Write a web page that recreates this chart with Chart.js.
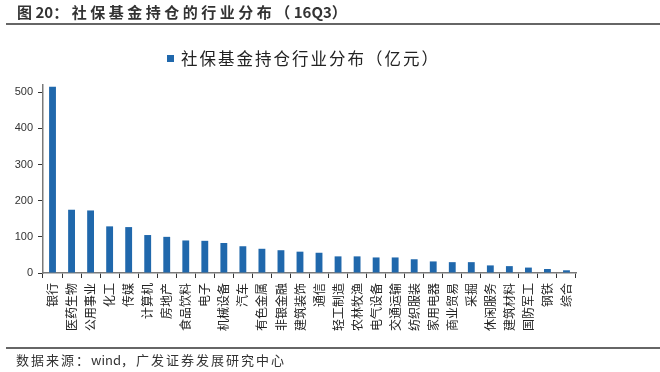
<!DOCTYPE html>
<html>
<head>
<meta charset="utf-8">
<script src="https://cdn.jsdelivr.net/npm/chart.js@4.4.1/dist/chart.umd.min.js"></script>
<style>
  html, body { margin: 0; padding: 0; background: #fff; }
  #wrap { position: relative; width: 660px; height: 372px; overflow: hidden; font-family: "Noto Sans CJK SC", "Noto Sans", sans-serif; }
  #chart { position: absolute; left: 0; top: 0; }
  .title { position: absolute; left: 17px; top: 2px; font-size: 15px; font-weight: bold; color: #333; letter-spacing: 3.5px; line-height: 20px; white-space: nowrap; }
  .title b, .source b { letter-spacing: 0; font-weight: inherit; }
  .rule { position: absolute; left: 6px; right: 0; height: 1.5px; background: #666; }
  .legend { position: absolute; left: 167px; top: 47px; font-size: 16.5px; color: #222; letter-spacing: 2px; line-height: 22px; white-space: nowrap; }
  .legend i { display: inline-block; width: 7px; height: 7px; background: #2068ac; margin-right: 7px; vertical-align: 3px; }
  .source { position: absolute; left: 16px; top: 351px; font-size: 13px; color: #333; letter-spacing: 2px; line-height: 18px; white-space: nowrap; }
</style>
</head>
<body>
<div id="wrap">
  <canvas id="chart" width="660" height="372"></canvas>
  <div class="title">图<b>20</b>：社保基金持仓的行业分布（<b>16Q3</b>）</div>
  <div class="rule" style="top:23px"></div>
  <div class="legend"><i></i>社保基金持仓行业分布（亿元）</div>
  <div class="rule" style="top:347px"></div>
  <div class="source">数据来源：<b>wind</b>，广发证券发展研究中心</div>
</div>
<script>
// ========== Data ==========
const industries = ['银行', '医药生物', '公用事业', '化工', '传媒', '计算机', '房地产', '食品饮料', '电子', '机械设备',
  '汽车', '有色金属', '非银金融', '建筑装饰', '通信', '轻工制造', '农林牧渔', '电气设备', '交通运输', '纺织服装',
  '家用电器', '商业贸易', '采掘', '休闲服务', '建筑材料', '国防军工', '钢铁', '综合'];
const holdings = [515, 175, 173, 129, 127, 105, 100, 90, 89, 83,
  74, 67, 63, 59, 56, 46, 46, 43, 43, 38,
  32, 30, 30, 21, 19, 15, 11, 7.5];
const yTicks = [0, 100, 200, 300, 400, 500];

const BAR_COLOR = '#2068ac';
const AXIS_COLOR = '#7a7a7a';
const FONT = '"Noto Sans CJK SC", "Noto Sans", sans-serif';

new Chart(document.getElementById('chart'), {
  type: 'bar',
  data: {
    labels: industries,
    datasets: [{
      label: '社保基金持仓行业分布（亿元）',
      data: holdings,
      backgroundColor: BAR_COLOR,
      categoryPercentage: 1,
      barPercentage: 0.36
    }]
  },
  options: {
    responsive: false,
    animation: false,
    layout: { padding: { left: 0, right: 84, top: 85, bottom: 37 } },
    plugins: {
      legend: { display: false },
      tooltip: { enabled: false }
    },
    scales: {
      x: {
        offset: true,
        afterFit: s => { s.height = 62; },
        border: { color: AXIS_COLOR, width: 1.5 },
        grid: { offset: true, drawOnChartArea: false, tickLength: 5, color: '#333', lineWidth: 1 },
        ticks: {
          minRotation: 90, maxRotation: 90, autoSkip: false, padding: 5,
          color: '#222', font: { family: FONT, size: 12 }
        }
      },
      y: {
        min: 0, max: 520,
        afterFit: s => { s.width = 43; },
        afterBuildTicks: s => { s.ticks = yTicks.map(v => ({ value: v })); },
        border: { color: AXIS_COLOR, width: 1.5 },
        grid: { drawOnChartArea: false, tickLength: 5, color: '#333', lineWidth: 1 },
        ticks: {
          padding: 5, color: '#333', font: { family: '"Liberation Sans", Arial, sans-serif', size: 11 }
        }
      }
    }
  }
});
</script>
</body>
</html>
